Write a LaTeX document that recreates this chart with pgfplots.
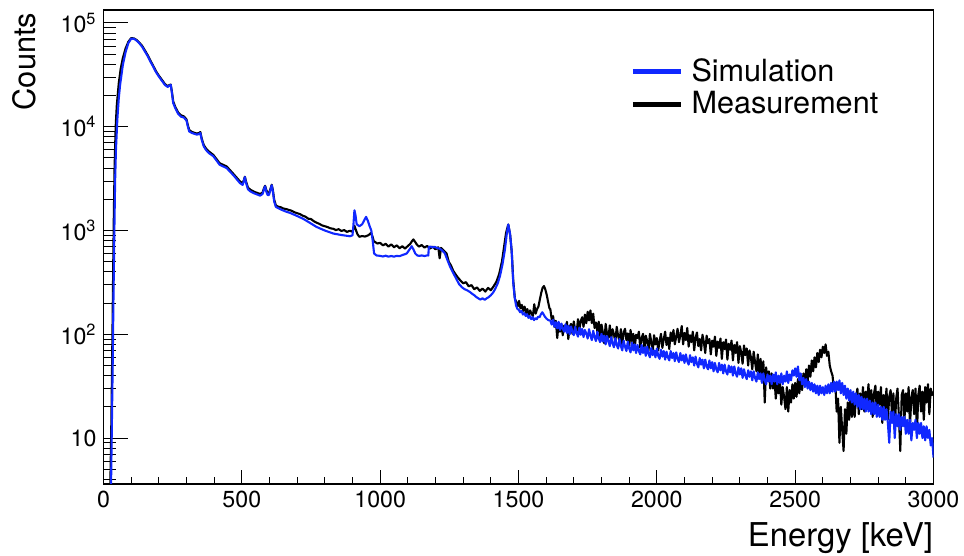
\documentclass[border=0pt]{standalone}
\usepackage{fontspec}
\setmainfont{TeX Gyre Heros}
\usepackage{pgfplots}
\pgfplotsset{compat=1.18}
\definecolor{simblue}{RGB}{16,40,255}
\begin{document}
\begin{tikzpicture}
\begin{axis}[
  name=ax, scale only axis, width=415pt, height=237pt,
  xmin=0, xmax=3000, ymode=log, ymin=3.61, ymax=1.334e5,
  axis line style={line width=0.8pt},
  tick align=inside, xtick pos=left, ytick pos=left,
  xtick={0,500,1000,1500,2000,2500,3000}, minor x tick num=4,
  ytick={10,100,1000,10000,100000},
  yticklabels={10,10\textsuperscript{2},10\textsuperscript{3},10\textsuperscript{4},10\textsuperscript{5}},
  minor ytick={4,5,6,7,8,9,20,30,40,50,60,70,80,90,200,300,400,500,600,700,800,900,2000,3000,4000,5000,6000,7000,8000,9000,20000,30000,40000,50000,60000,70000,80000,90000},
  xtick style={/pgfplots/major tick length=7pt,/pgfplots/minor tick length=3.5pt,line width=0.5pt,black},
  ytick style={/pgfplots/major tick length=12pt,/pgfplots/minor tick length=6.5pt,line width=0.5pt,black},
  /pgf/number format/1000 sep={},
  /pgf/number format/assume math mode=true,
  tick label style={font=\fontsize{11.6}{13}\selectfont},
  xlabel={Energy [keV]}, ylabel={Counts},
  xlabel style={font=\fontsize{16.4}{18}\selectfont, at={(axis description cs:1,-0.132)}, anchor=base east, inner sep=0pt},
  ylabel style={font=\fontsize{15.4}{18}\selectfont, at={(axis description cs:-0.0825,0.995)}, anchor=base east, inner sep=0pt},
  legend style={draw=none, fill=none, inner sep=0pt, at={(axis description cs:0.634,0.905)}, anchor=north west,
    font=\fontsize{15.3}{18}\selectfont, nodes={inner sep=1pt, inner xsep=4pt, text height=11.8pt, text depth=2.5pt}, row sep=0pt},
  legend cell align=left, reverse legend,
  legend image code/.code={\draw[#1, line width=2.7pt] (0pt,0pt) -- (24pt,0pt);},
]
\addplot[black, line width=1.05pt, line join=round] coordinates {
(20,1)(25,4)(28,12)(31,50)(34,250)(37,1200)(40,4000)(44,10000)(48,16000)(55,26000)(62,36000)(70,46000)(80,57000)(90,66000)(100,71500)(110,71000)(120,68500)(130,64500)(140,60000)(150,54200)(160,48800)(170,43200)(180,38500)(190,34200)(200,31100)(210,28600)(222,25800)(232,24600)(238,25200)(243,25500)(247,22000)(252,17500)(260,15400)(270,13700)(280,12900)(290,12600)(300,11800)(305,10300)(310,9300)(320,8900)(337,8600)(345,8700)(350,8900)(355,7700)(362,6700)(370,6200)(380,5800)(397,5350)(420,4450)(445,4150)(470,3500)(493,2980)(503,2850)(508,3100)(511,3300)(515,2980)(522,2600)(530,2480)(545,2360)(566,2250)(575,2320)(580,2550)(584,2700)(588,2480)(593,2290)(598,2280)(603,2500)(608,2760)(612,2470)(617,1980)(623,1750)
(630,1700)(640,1680)(650,1630)(660,1610)(670,1580)(680,1550)(690,1500)(700,1470)(710,1440)(720,1390)(730,1360)(740,1300)(750,1290)(760,1230)(770,1190)(780,1160)(790,1120)(800,1100)(810,1080)(820,1050)(830,1040)(840,1010)(850,1030)(860,990)(870,1010)(880,970)(890,995)(900,975)(907,1110)(913,1000)(918,920)(925,870)(935,885)(945,875)(955,895)(962,920)(967,950)(972,880)(977,790)(983,770)(990,750)
(1000,760)(1010,720)(1020,745)(1030,700)(1040,735)(1050,690)(1060,720)(1070,675)(1080,705)(1090,670)(1100,710)(1108,740)(1115,790)(1120,820)(1126,780)(1133,730)(1140,700)(1150,725)(1160,685)(1170,710)(1180,670)(1190,700)(1200,660)(1210,690)(1215,540)(1220,680)(1230,640)(1240,600)(1248,500)(1256,460)(1264,410)(1272,380)(1280,355)(1290,330)(1300,310)(1310,318)(1320,290)(1330,298)(1340,272)(1350,283)(1360,262)(1370,276)(1380,258)(1390,280)(1400,266)(1410,290)(1420,320)(1430,380)(1440,500)(1448,700)(1455,950)(1463,1142)(1470,900)(1476,600)(1481,330)
(1487,220)(1492,205)(1497,185)(1502,210)(1507,178)(1512,192)(1517,168)(1522,185)(1527,160)(1532,175)(1537,152)(1542,170)(1547,158)(1552,150)(1557,195)(1562,158)(1567,175)(1572,185)(1577,215)(1582,250)(1587,280)(1592,292)(1597,270)(1602,240)(1607,205)(1612,178)
(1615,175)(1620,140)(1625,150)(1630,118)(1635,135)(1640,92)(1645,128)(1650,106)(1655,125)(1660,98)(1665,121)(1670,110)(1675,132)(1680,90)(1685,118)(1690,126)(1695,101)(1700,133)(1705,108)(1710,103)(1715,140)(1720,112)(1725,134)(1730,146)(1735,118)(1740,155)(1745,128)(1750,165)(1755,136)(1760,170)(1765,128)(1770,158)(1775,115)(1780,130)(1785,106)(1790,132)(1795,96)(1800,124)(1805,104)(1810,82)(1815,126)(1820,101)(1825,92)(1830,122)(1835,90)(1840,112)(1845,100)(1850,84)(1855,118)(1860,97)(1865,86)(1870,112)(1875,78)(1880,104)(1885,113)(1890,88)(1895,102)(1900,76)(1905,110)(1910,86)(1915,101)(1920,73)(1925,99)(1930,92)(1935,106)(1940,74)(1945,92)(1950,101)(1955,72)(1960,97)(1965,86)(1970,70)(1975,101)(1980,84)(1985,67)(1990,98)(1995,80)
(2000,92)(2005,70)(2010,86)(2015,101)(2020,74)(2025,90)(2030,106)(2035,79)(2040,93)(2045,72)(2050,104)(2055,86)(2060,110)(2065,80)(2070,95)(2075,113)(2080,84)(2085,98)(2090,120)(2095,80)(2100,103)(2105,88)(2110,115)(2115,76)(2120,98)(2125,84)(2130,106)(2135,70)(2140,93)(2145,104)(2150,77)(2155,90)(2160,70)(2165,99)(2170,84)(2175,66)(2180,97)(2185,82)(2190,90)(2195,64)(2200,87)(2205,76)(2210,95)(2215,62)(2220,85)(2225,74)(2230,91)(2235,58)(2240,84)(2245,72)(2250,89)(2255,57)(2260,81)(2265,71)(2270,87)(2275,56)(2280,79)(2285,66)(2290,84)(2295,53)(2300,77)(2305,67)(2310,52)(2315,78)(2320,63)(2325,73)(2330,50)(2335,70)(2340,60)(2345,46)(2350,68)(2355,54)(2360,44)(2365,64)(2370,40)(2375,58)(2380,35)(2385,55)(2390,22)(2395,48)(2400,36)(2405,44)(2410,30)(2415,42)(2420,30)(2425,38)(2430,24)(2435,34)(2440,27)(2445,35)(2450,21)(2455,31)(2460,25)(2465,19)(2470,31)(2475,18)(2480,29)(2485,22)(2490,33)(2495,24)
(2500,34)(2505,25)(2510,37)(2515,27)(2520,39)(2525,29)(2530,42)(2535,33)(2540,46)(2545,35)(2550,50)(2555,39)(2560,56)(2565,44)(2570,60)(2575,48)(2580,66)(2585,54)(2590,71)(2595,60)(2600,76)(2605,66)(2610,80)(2615,62)(2620,68)(2625,50)(2630,44)(2635,40)(2640,30)(2645,34)(2650,18)(2655,24)(2660,9)(2665,20)(2670,12)(2675,7.5)(2680,19)(2685,11)(2690,22)(2695,15)(2700,25)(2705,16)(2710,27)(2715,16)(2720,25)(2725,30)(2730,17)(2735,27)(2740,19)(2745,31)(2750,18)(2755,28)(2760,22)(2765,33)(2770,19)(2775,29)(2780,16)(2785,27)(2790,32)(2795,18)(2800,28)(2805,21)(2810,31)(2815,14)(2820,26)(2825,19)(2830,30)(2835,15)(2840,25)(2845,29)(2850,17)(2855,27)(2860,12)(2865,24)(2870,30)(2875,16)(2880,7.5)(2885,26)(2890,29)(2895,15)(2900,27)(2905,18)(2910,31)(2915,13)(2920,25)(2925,29)(2930,17)(2935,30)(2940,11)(2945,26)(2950,32)(2955,18)(2960,28)(2965,15)(2970,31)(2975,22)(2980,33)(2985,17)(2990,30)(2995,26)(3000,28)
};
\addlegendentry{Measurement}
\addplot[simblue, line width=1.05pt, line join=round] coordinates {
(20,1)(27,3)(30,12)(33,45)(36,218)(39,900)(42,3000)(45,6000)(50,11700)(55,18500)(60,25300)(70,39500)(80,52600)(90,64200)(100,70600)(110,70500)(120,67600)(130,63500)(140,58800)(150,53000)(160,47800)(170,42300)(180,37800)(190,33500)(200,30500)(210,28000)(222,25300)(232,24200)(238,24900)(243,25300)(247,21500)(252,16900)(260,15000)(270,13300)(280,12500)(290,12300)(300,11500)(305,10000)(310,9000)(320,8700)(337,8400)(345,8500)(350,8700)(355,7500)(362,6500)(370,6000)(380,5600)(397,5200)(420,4300)(445,4000)(470,3400)(493,2870)(503,2750)(508,3050)(511,3280)(515,2900)(522,2500)(530,2390)(545,2280)(566,2170)(575,2250)(580,2500)(584,2670)(588,2400)(593,2200)(598,2200)(603,2450)(608,2730)(612,2400)(617,1900)(623,1690)(640,1600)(660,1520)(674,1480)(700,1380)(722,1295)(745,1190)(770,1083)(800,1000)(831,935)(860,905)(891,881)(900,900)(903,1100)(907,1567)(911,1400)(915,1150)(925,1100)(935,1150)(942,1250)(949,1355)(955,1250)(962,1100)(968,1000)(973,800)(978,601)(987,575)
(1000,570)(1010,562)(1020,572)(1030,560)(1040,568)(1050,560)(1060,570)(1070,566)(1080,580)(1090,592)(1096,601)(1105,650)(1114,706)(1120,660)(1127,600)(1134,575)(1142,570)(1150,576)(1160,568)(1170,576)(1174,575)(1176,696)(1183,700)(1190,688)(1198,695)(1205,680)(1216,667)(1225,640)(1234,601)(1243,520)(1252,453)(1264,390)(1276,339)(1285,305)(1295,285)(1305,272)(1315,265)(1325,255)(1333,245)(1340,238)(1348,228)(1355,222)(1362,216)(1370,222)(1378,215)(1385,222)(1392,228)(1400,238)(1408,252)(1415,271)(1425,310)(1433,364)(1442,470)(1451,657)(1457,900)(1463,1142)(1469,950)(1475,657)(1481,314)
(1486,230)(1491,190)(1496,176)(1501,172)(1506,163)(1511,168)(1516,155)(1521,160)(1526,150)(1531,156)(1536,144)(1541,150)(1546,140)(1551,146)(1556,137)(1561,143)(1566,140)(1571,148)(1576,146)(1581,156)(1586,163)(1591,155)(1596,147)(1601,142)(1606,138)(1611,136)
(1615,136)(1620,124)(1625,138)(1630,118)(1635,131)(1640,114)(1645,132)(1650,110)(1655,127)(1660,113)(1665,106)(1670,125)(1675,103)(1680,121)(1685,100)(1690,119)(1695,106)(1700,98)(1705,118)(1710,103)(1715,95)(1720,116)(1725,99)(1730,113)(1735,94)(1740,110)(1745,102)(1750,91)(1755,112)(1760,97)(1765,88)(1770,108)(1775,94)(1780,86)(1785,106)(1790,91)(1795,84)(1800,101)(1805,85)(1810,97)(1815,80)(1820,96)(1825,86)(1830,77)(1835,94)(1840,82)(1845,75)(1850,92)(1855,79)(1860,73)(1865,90)(1870,77)(1875,70)(1880,87)(1885,76)(1890,69)(1895,85)(1900,73)(1905,67)(1910,83)(1915,70)(1920,80)(1925,66)(1930,79)(1935,69)(1940,64)(1945,79)(1950,66)(1955,75)(1960,62)(1965,76)(1970,65)(1975,60)(1980,74)(1985,63)(1990,70)(1995,60)
(2000,73)(2005,62)(2010,58)(2015,71)(2020,61)(2025,69)(2030,57)(2035,68)(2040,60)(2045,56)(2050,69)(2055,59)(2060,66)(2065,55)(2070,67)(2075,58)(2080,54)(2085,66)(2090,56)(2095,63)(2100,53)(2105,64)(2110,55)(2115,51)(2120,63)(2125,54)(2130,60)(2135,50)(2140,61)(2145,52)(2150,48)(2155,59)(2160,51)(2165,57)(2170,47)(2175,57)(2180,49)(2185,46)(2190,56)(2195,47)(2200,54)(2205,44)(2210,53)(2215,46)(2220,43)(2225,53)(2230,45)(2235,51)(2240,42)(2245,51)(2250,44)(2255,41)(2260,50)(2265,43)(2270,49)(2275,40)(2280,49)(2285,42)(2290,39)(2295,48)(2300,41)(2305,47)(2310,38)(2315,46)(2320,40)(2325,37)(2330,45)(2335,39)(2340,44)(2345,36)(2350,44)(2355,38)(2360,35)(2365,43)(2370,37)(2375,42)(2380,34)(2385,42)(2390,36)(2395,33)(2400,41)(2405,35)(2410,40)(2415,33)(2420,41)(2425,35)(2430,43)(2435,33)(2440,40)(2445,34)(2450,42)(2455,33)(2460,40)(2465,35)(2470,44)(2475,34)(2480,41)(2485,36)(2490,45)(2495,40)
(2500,47)(2505,39)(2510,49)(2515,36)(2520,42)(2525,33)(2530,38)(2535,31)(2540,37)(2545,30)(2550,35)(2555,29)(2560,34)(2565,28)(2570,33)(2575,27)(2580,32)(2585,26)(2590,32)(2595,27)(2600,31)(2605,26)(2610,32)(2615,27)(2620,33)(2625,27)(2630,34)(2635,28)(2640,35)(2645,28)(2650,35)(2655,29)(2660,36)(2665,27)(2670,34)(2675,26)(2680,32)(2685,24)(2690,30)(2695,23)(2700,29)(2705,22)(2710,28)(2715,21)(2720,27)(2725,20)(2730,26)(2735,19)(2740,25)(2745,19)(2750,24)(2755,18)(2760,24)(2765,18)(2770,23)(2775,17)(2780,22)(2785,17)(2790,22)(2795,16)(2800,21)(2805,16)(2810,20)(2815,15)(2820,20)(2825,15)(2830,19)(2835,14)(2840,9)(2845,18)(2850,14)(2855,18)(2860,10)(2865,17)(2870,13)(2875,17)(2880,12)(2885,16)(2890,13)(2895,16)(2900,11)(2905,15)(2910,11)(2915,15)(2920,9.5)(2925,14)(2930,12)(2935,15)(2940,10)(2945,14)(2950,11)(2955,14)(2960,10)(2965,13)(2970,9.5)(2975,13)(2980,10)(2985,12)(2990,8.5)(2995,10)(3000,6.5)
};
\addlegendentry{Simulation}
\end{axis}
\pgfresetboundingbox
\path (ax.south west) ++(-51.75pt,-36pt) rectangle ++(482pt,278pt);
\end{tikzpicture}
\end{document}
